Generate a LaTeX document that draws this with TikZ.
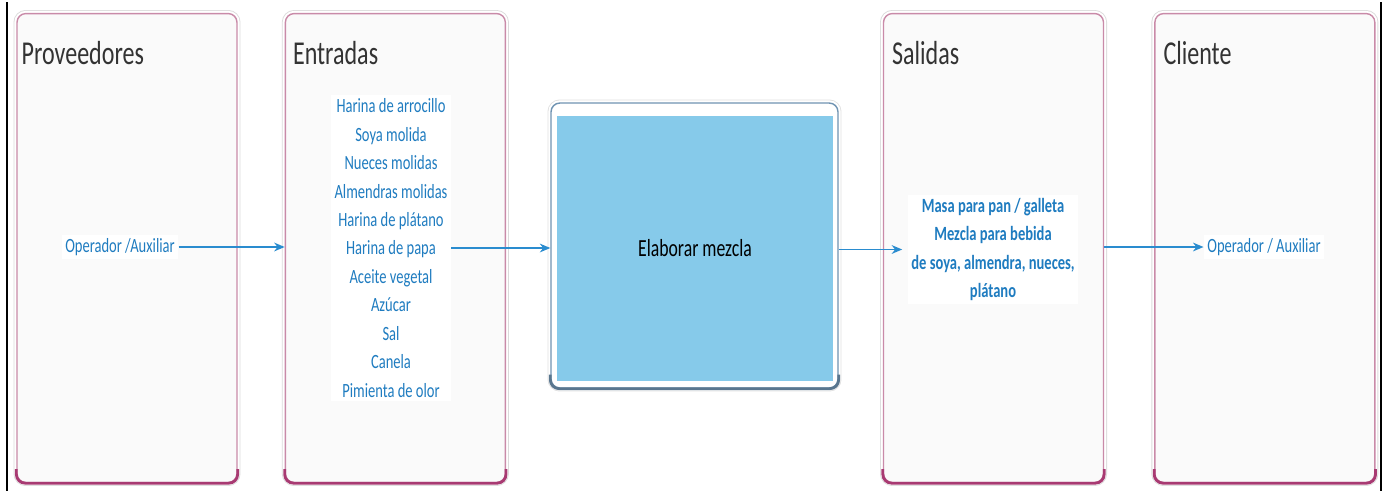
\documentclass[tikz,border=0pt]{standalone}
\usepackage{fontspec}
\setmainfont{Carlito}[FakeStretch=0.72]
\usepackage{xcolor}
\usepackage{tikz}
\usetikzlibrary{positioning,arrows.meta}

\definecolor{lanepink}{HTML}{C98AA8}
\definecolor{lanedark}{HTML}{A83A72}
\definecolor{lanefill}{HTML}{FAFAFA}
\definecolor{flowblue}{HTML}{2A8CCF}
\definecolor{textblue}{HTML}{1F7CC0}
\definecolor{procblue}{HTML}{86CAEA}
\definecolor{procedge}{HTML}{6F93B2}

\tikzset{
  lane/.style={draw=lanepink, fill=lanefill, line width=0.8pt, rounded corners=5pt,
    minimum width=4.4cm, minimum height=9.38cm,
    preaction={draw=black!14, double=white, double distance=3pt, line width=0.5pt}},
  lanetitle/.style={anchor=west, inner sep=0pt, text=black!80,
    font=\fontsize{19}{22}\selectfont},
  item/.style={fill=white, inner sep=2pt, text=textblue, align=center,
    font=\fontsize{11.5}{16.2}\selectfont},
  flow/.style={draw=flowblue, line width=0.8pt, -{Stealth[length=6pt, width=5pt]}},
  bottomedge/.style={line width=1.6pt, rounded corners=5pt},
}

\begin{document}
\begin{tikzpicture}[x=0.02cm, y=-0.02cm]
  \useasboundingbox (0,0) rectangle (1382,491);

  % lanes
  \node[lane] (prov) at (127,248) {};
  \node[lane, right=0.94cm of prov] (ent) {};
  \node[lane] (sal) at (993.5,248) {};
  \node[lane, right=1cm of sal] (cli) {};
  \foreach \l in {prov,ent,sal,cli}
    \draw[lanedark, bottomedge] ([yshift=8pt]\l.south west) -- (\l.south west)
      -- (\l.south east) -- ([yshift=8pt]\l.south east);

  \node[lanetitle] at ([xshift=0.1cm, yshift=-0.8cm]prov.north west) {Proveedores};
  \node[lanetitle] at ([xshift=0.16cm, yshift=-0.8cm]ent.north west) {Entradas};
  \node[lanetitle] at ([xshift=0.18cm, yshift=-0.8cm]sal.north west) {Salidas};
  \node[lanetitle] at ([xshift=0.18cm, yshift=-0.8cm]cli.north west) {Cliente};

  % process
  \node[draw=procedge, fill=white, line width=0.8pt, rounded corners=5pt,
    minimum width=5.74cm, minimum height=5.7cm,
    preaction={draw=black!12, double=white, double distance=3pt, line width=0.5pt}]
    (frame) at (694.5,245.5) {};
  \draw[procedge!80!black, bottomedge] ([yshift=8pt]frame.south west) -- (frame.south west)
    -- (frame.south east) -- ([yshift=8pt]frame.south east);
  \node[fill=procblue, minimum width=5.52cm, minimum height=5.3cm,
    font=\fontsize{14}{16}\selectfont] (proc) at (695,248.5) {Elaborar mezcla};

  % texts
  \node[item] (op1) at (120,247) {Operador /Auxiliar};
  \node[item] (ins) at (391,248) {Harina de arrocillo\\Soya molida\\Nueces molidas\\
    Almendras molidas\\Harina de plátano\\Harina de papa\\Aceite vegetal\\Azúcar\\
    Sal\\Canela\\Pimienta de olor};
  \node[item, font=\fontsize{11.5}{16}\selectfont\bfseries] (outs) at (993,249.5)
    {Masa para pan / galleta\\Mezcla para bebida\\de soya, almendra, nueces,\\plátano};
  \node[item] (op2) at (1264,247) {Operador / Auxiliar};

  % arrows
  \draw[flow] (op1.east) -- (op1.east -| ent.west);
  \draw[flow] (ins.east) -- (ins.east -| frame.west);
  \draw[flow] (outs.west -| frame.east) -- ([xshift=-3pt]outs.west);
  \draw[flow] (op2.west -| sal.east) -- (op2.west);

  % page edges
  \draw[black, line width=1.2pt] (7,2) -- (7,491);
  \draw[black, line width=1pt] (1381,2) -- (1381,491);
\end{tikzpicture}
\end{document}
